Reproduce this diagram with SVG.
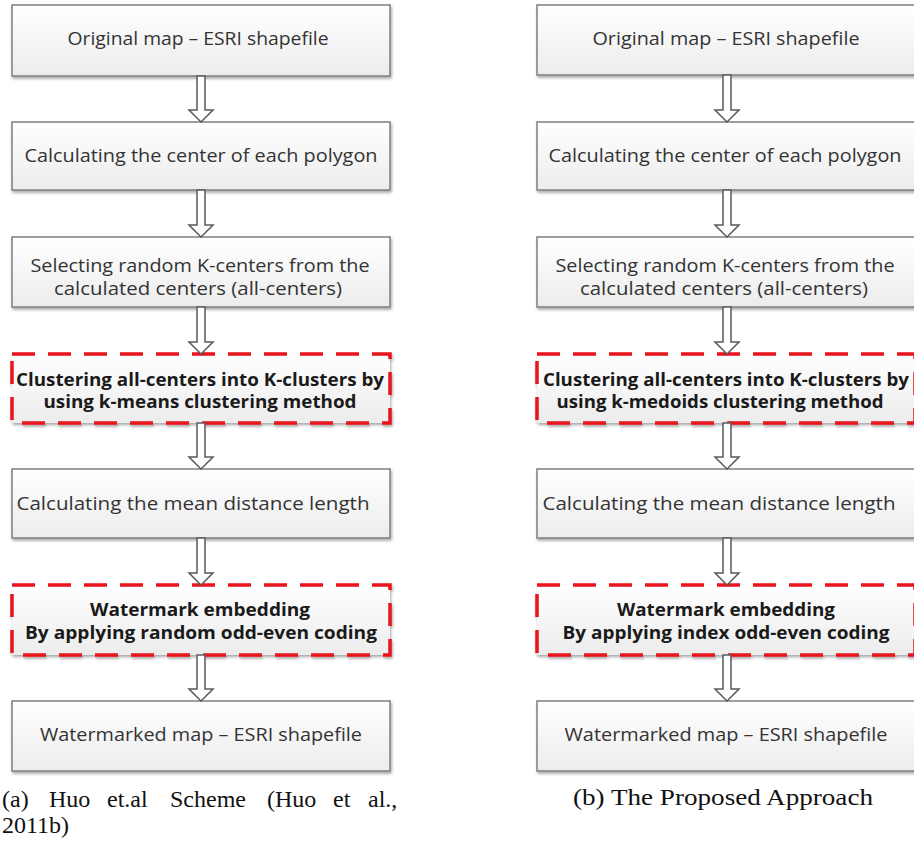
<svg xmlns="http://www.w3.org/2000/svg" width="914" height="844" viewBox="0 0 914 844">
<defs>
  <linearGradient id="g" x1="0" y1="0" x2="0" y2="1">
    <stop offset="0" stop-color="#ffffff"/>
    <stop offset="1" stop-color="#ececec"/>
  </linearGradient>
  <filter id="sh" x="-5%" y="-10%" width="110%" height="130%">
    <feGaussianBlur in="SourceAlpha" stdDeviation="1.5"/>
    <feOffset dx="1" dy="2" result="b"/>
    <feComponentTransfer><feFuncA type="linear" slope="0.35"/></feComponentTransfer>
    <feMerge><feMergeNode/><feMergeNode in="SourceGraphic"/></feMerge>
  </filter>
  <style>
    .box{fill:url(#g);stroke:#7f7f7f;stroke-width:1.5;filter:url(#sh)}
    .dash{fill:url(#g);stroke:#e8121e;stroke-width:3.5;stroke-dasharray:23 13;filter:url(#sh)}
    .t{font-family:"Open Sans","Noto Sans","Liberation Sans",sans-serif;font-size:17.5px;fill:#333;text-anchor:middle}
    .b{font-weight:bold;fill:#1a1a1a}
    .arr{fill:#ffffff;stroke:#595959;stroke-width:1.5;stroke-linejoin:miter}
    .cap{font-family:"Liberation Serif","DejaVu Serif",serif;font-size:24px;fill:#111}
  </style>
</defs>

<!-- Left column -->
<g id="a1"><rect class="box" x="12" y="5" width="378" height="71"/>
<text class="t" x="198" y="45" textLength="261" lengthAdjust="spacingAndGlyphs">Original map – ESRI shapefile</text></g>
<g id="a2"><rect class="box" x="12" y="122" width="378" height="68"/>
<text class="t" x="201" y="162" textLength="353" lengthAdjust="spacingAndGlyphs">Calculating the center of each polygon</text></g>
<g id="a3"><rect class="box" x="12" y="237" width="378" height="70"/>
<text class="t" x="200" y="272" textLength="339" lengthAdjust="spacingAndGlyphs">Selecting random K-centers from the</text>
<text class="t" x="198" y="295" textLength="288" lengthAdjust="spacingAndGlyphs">calculated centers (all-centers)</text></g>
<g id="a4"><rect class="dash" x="12" y="354" width="378" height="69"/>
<text class="t b" x="200" y="386" textLength="368" lengthAdjust="spacingAndGlyphs">Clustering all-centers into K-clusters by</text>
<text class="t b" x="200" y="408" textLength="313" lengthAdjust="spacingAndGlyphs">using k-means clustering method</text></g>
<g id="a5"><rect class="box" x="12" y="469" width="378" height="69"/>
<text class="t" x="193" y="510" textLength="353" lengthAdjust="spacingAndGlyphs">Calculating the mean distance length</text></g>
<g id="a6"><rect class="dash" x="12" y="585" width="378" height="70"/>
<text class="t b" x="200" y="616" textLength="220" lengthAdjust="spacingAndGlyphs">Watermark embedding</text>
<text class="t b" x="201" y="639" textLength="352" lengthAdjust="spacingAndGlyphs">By applying random odd-even coding</text></g>
<g id="a7"><rect class="box" x="12" y="701" width="378" height="70"/>
<text class="t" x="201" y="741" textLength="322" lengthAdjust="spacingAndGlyphs">Watermarked map – ESRI shapefile</text></g>

<!-- Right column -->
<g id="b1"><rect class="box" x="537" y="5" width="378" height="70"/>
<text class="t" x="726" y="45" textLength="267" lengthAdjust="spacingAndGlyphs">Original map – ESRI shapefile</text></g>
<g id="b2"><rect class="box" x="537" y="122" width="378" height="68"/>
<text class="t" x="725" y="162" textLength="353" lengthAdjust="spacingAndGlyphs">Calculating the center of each polygon</text></g>
<g id="b3"><rect class="box" x="537" y="237" width="378" height="70"/>
<text class="t" x="725" y="272" textLength="339" lengthAdjust="spacingAndGlyphs">Selecting random K-centers from the</text>
<text class="t" x="724" y="295" textLength="288" lengthAdjust="spacingAndGlyphs">calculated centers (all-centers)</text></g>
<g id="b4"><rect class="dash" x="537" y="354" width="378" height="69"/>
<text class="t b" x="726" y="386" textLength="366" lengthAdjust="spacingAndGlyphs">Clustering all-centers into K-clusters by</text>
<text class="t b" x="720" y="408" textLength="327" lengthAdjust="spacingAndGlyphs">using k-medoids clustering method</text></g>
<g id="b5"><rect class="box" x="537" y="469" width="378" height="69"/>
<text class="t" x="719" y="510" textLength="353" lengthAdjust="spacingAndGlyphs">Calculating the mean distance length</text></g>
<g id="b6"><rect class="dash" x="537" y="585" width="378" height="70"/>
<text class="t b" x="726" y="616" textLength="218" lengthAdjust="spacingAndGlyphs">Watermark embedding</text>
<text class="t b" x="726" y="639" textLength="327" lengthAdjust="spacingAndGlyphs">By applying index odd-even coding</text></g>
<g id="b7"><rect class="box" x="537" y="701" width="378" height="70"/>
<text class="t" x="726" y="741" textLength="323" lengthAdjust="spacingAndGlyphs">Watermarked map – ESRI shapefile</text></g>

<!-- Connectors: hollow block arrows -->
<g id="connectors">
  <polygon class="arr" points="197,76 205,76 205,110 213,110 201,122 189,110 197,110"/>
  <polygon class="arr" points="197,190 205,190 205,225 213,225 201,237 189,225 197,225"/>
  <polygon class="arr" points="197,307 205,307 205,342 213,342 201,354 189,342 197,342"/>
  <polygon class="arr" points="197,423 205,423 205,457 213,457 201,469 189,457 197,457"/>
  <polygon class="arr" points="197,538 205,538 205,573 213,573 201,585 189,573 197,573"/>
  <polygon class="arr" points="197,655 205,655 205,689 213,689 201,701 189,689 197,689"/>

  <polygon class="arr" points="723,75 731,75 731,110 739,110 727,122 715,110 723,110"/>
  <polygon class="arr" points="723,190 731,190 731,225 739,225 727,237 715,225 723,225"/>
  <polygon class="arr" points="723,307 731,307 731,342 739,342 727,354 715,342 723,342"/>
  <polygon class="arr" points="723,423 731,423 731,457 739,457 727,469 715,457 723,457"/>
  <polygon class="arr" points="723,538 731,538 731,573 739,573 727,585 715,573 723,573"/>
  <polygon class="arr" points="723,655 731,655 731,689 739,689 727,701 715,689 723,689"/>
</g>

<!-- Captions -->
<g id="captions">
  <text class="cap" y="807"><tspan x="2">(a)</tspan><tspan x="49">Huo</tspan><tspan x="107">et.al</tspan><tspan x="170">Scheme</tspan><tspan x="267">(Huo</tspan><tspan x="333">et</tspan><tspan x="368">al.,</tspan></text>
  <text class="cap" x="2" y="833">2011b)</text>
  <text class="cap" x="573" y="805" textLength="300" lengthAdjust="spacingAndGlyphs">(b) The Proposed Approach</text>
</g>
</svg>
